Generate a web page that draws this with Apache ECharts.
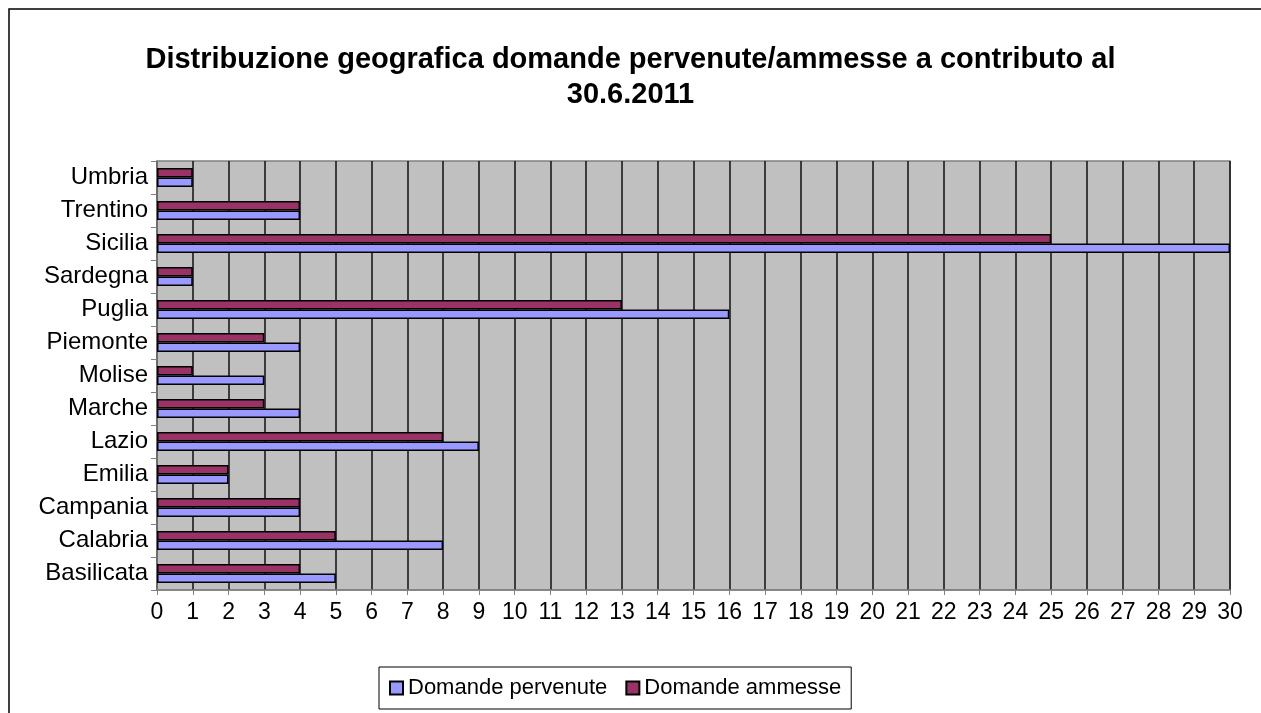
<!DOCTYPE html>
<html>
  <head>
    <meta charset="utf-8" />
    <title>Distribuzione geografica domande</title>
    <script src="https://cdn.jsdelivr.net/npm/echarts/dist/echarts.min.js"></script>
    <style>
      html, body { margin: 0; padding: 0; background: #fff; }
    </style>
  </head>
  <body>
    <div id="main" style="width: 1261px; height: 713px"></div>
    <script type="text/javascript">
      // regioni, dal basso verso l'alto
      var regioni = ['Basilicata', 'Calabria', 'Campania', 'Emilia', 'Lazio', 'Marche', 'Molise',
        'Piemonte', 'Puglia', 'Sardegna', 'Sicilia', 'Trentino', 'Umbria'];
      var pervenute = [5, 8, 4, 2, 9, 4, 3, 4, 16, 1, 30, 4, 1];
      var ammesse = [4, 5, 4, 2, 8, 3, 1, 3, 13, 1, 25, 4, 1];

      var font = 'Liberation Sans, Arial, sans-serif';
      var myChart = echarts.init(document.getElementById('main'));

      var option = {
        animation: false,
        backgroundColor: '#fff',
        textStyle: { fontFamily: font },
        title: {
          text: 'Distribuzione geografica domande pervenute/ammesse a contributo al\n30.6.2011',
          left: 'center',
          top: 37,
          textStyle: { fontSize: 29, fontWeight: 'bold', color: '#000', lineHeight: 35, fontFamily: font }
        },
        // cornice esterna del grafico
        graphic: [{
          type: 'rect',
          shape: { x: 9, y: 9, width: 1400, height: 900 },
          style: { fill: null, stroke: '#000', lineWidth: 1.5 },
          silent: true
        }],
        legend: {
          top: 667,
          left: 379,
          itemWidth: 13,
          itemHeight: 13,
          itemGap: 18,
          icon: 'rect',
          padding: [10, 10, 10, 10],
          borderColor: '#000',
          borderWidth: 1,
          textStyle: { fontSize: 22, color: '#000', fontFamily: font },
          data: ['Domande pervenute', 'Domande ammesse']
        },
        grid: {
          left: 157,
          right: 31,
          top: 161,
          bottom: 123,
          show: true,
          backgroundColor: '#C0C0C0',
          borderColor: '#808080',
          borderWidth: 1.5
        },
        xAxis: {
          type: 'value',
          min: 0,
          max: 30,
          interval: 1,
          axisLine: { show: true, lineStyle: { color: '#808080', width: 1.5 } },
          axisTick: { show: true, length: 5, lineStyle: { color: '#808080' } },
          axisLabel: { fontSize: 23, color: '#000', margin: 11, fontFamily: font },
          splitLine: { show: true, lineStyle: { color: '#111', width: 1.5 } }
        },
        yAxis: {
          type: 'category',
          data: regioni,
          axisLine: { show: true, lineStyle: { color: '#808080', width: 1.5 } },
          axisTick: { show: true, length: 6, lineStyle: { color: '#808080' } },
          axisLabel: { fontSize: 24, color: '#000', margin: 9, fontFamily: font }
        },
        // ammesse prima: in ECharts la prima serie sta sopra
        series: [
          {
            name: 'Domande ammesse',
            type: 'bar',
            data: ammesse,
            barGap: '0%',
            barCategoryGap: '43%',
            itemStyle: { color: '#993366', borderColor: '#000', borderWidth: 1.5 }
          },
          {
            name: 'Domande pervenute',
            type: 'bar',
            data: pervenute,
            barGap: '0%',
            barCategoryGap: '43%',
            itemStyle: { color: '#9999FF', borderColor: '#000', borderWidth: 1.5 }
          }
        ]
      };

      myChart.setOption(option);
    </script>
  </body>
</html>
